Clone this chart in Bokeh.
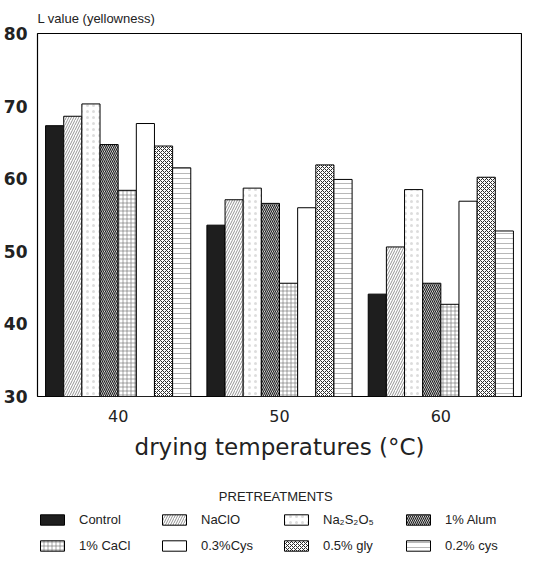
import numpy as np
from bokeh.plotting import figure
from bokeh.models import (ColumnDataSource, FactorRange, Range1d, Legend, LegendItem,
                          FixedTicker, Label)
from bokeh.layouts import column
from bokeh.transform import dodge
from bokeh.embed import file_html
from bokeh.resources import INLINE

temps = ["40", "50", "60"]
treatments = ["Control", "NaClO", "Na\u2082S\u2082O\u2085", "1% Alum",
              "1% CaCl", "0.3%Cys", "0.5% gly", "0.2% cys"]
control = [67.3, 53.6, 44.1]
naclo = [68.6, 57.1, 50.6]
na2s2o5 = [70.3, 58.7, 58.5]
alum = [64.7, 56.6, 45.6]
cacl = [58.4, 45.6, 42.7]
cys03 = [67.6, 56.0, 56.9]
gly = [64.5, 61.9, 60.2]
cys02 = [61.5, 59.9, 52.8]
y_ticks = [30, 40, 50, 60, 70, 80]

series = [control, naclo, na2s2o5, alum, cacl, cys03, gly, cys02]
keys = ["control", "naclo", "na2s2o5", "alum", "cacl", "cys03", "gly", "cys02"]
data = {"temp": temps}
for k, s in zip(keys, series):
    data[k] = s
src = ColumnDataSource(data)

styles = [
    dict(fill_color="#1e1e1e", hatch_pattern=None),
    dict(fill_color="white", hatch_pattern="/", hatch_color="#777777", hatch_scale=5, hatch_weight=0.8),
    dict(fill_color="white", hatch_pattern=".", hatch_color="#dddddd", hatch_scale=6, hatch_weight=0.5),
    dict(fill_color="white", hatch_pattern="\\", hatch_color="#1e1e1e", hatch_scale=4, hatch_weight=1.2),
    dict(fill_color="white", hatch_pattern="+", hatch_color="#666666", hatch_scale=4, hatch_weight=0.6),
    dict(fill_color="white", hatch_pattern=None),
    dict(fill_color="white", hatch_pattern="x", hatch_color="#2a2a2a", hatch_scale=4, hatch_weight=1.0),
    dict(fill_color="white", hatch_pattern="-", hatch_color="#999999", hatch_scale=5, hatch_weight=0.7),
]

p = figure(width=522, height=471, x_range=FactorRange(factors=temps, range_padding=0),
           y_range=Range1d(30, 80), output_backend="svg", toolbar_location=None,
           min_border_left=28, min_border_right=1, min_border_top=0, min_border_bottom=75)

n = len(keys)
group_w = 0.9
bw = group_w / n
for i, (k, st) in enumerate(zip(keys, styles)):
    off = (i - (n - 1) / 2) * bw
    kw = {kk: vv for kk, vv in st.items() if vv is not None}
    p.vbar(x=dodge("temp", off, range=p.x_range), top=k, bottom=30, width=bw,
           source=src, line_color="black", line_width=1, **kw)

p.title.text = "L value (yellowness)"
p.title.align = "left"
p.title.text_font = "Liberation Sans"
p.title.text_font_size = "13px"
p.title.text_font_style = "normal"
p.title.text_color = "#222222"
p.title.standoff = 16

p.xgrid.visible = False
p.ygrid.visible = False
p.outline_line_color = "black"
p.outline_line_width = 1.2

p.yaxis.ticker = FixedTicker(ticks=y_ticks)
p.yaxis.major_label_text_font = "DejaVu Sans"
p.yaxis.major_label_text_font_size = "17px"
p.yaxis.major_label_text_font_style = "bold"
p.yaxis.major_label_text_color = "#222222"
p.yaxis.major_tick_line_color = None
p.yaxis.minor_tick_line_color = None
p.yaxis.axis_line_color = None
p.yaxis.major_label_standoff = 4

p.xaxis.major_label_text_font = "DejaVu Sans"
p.xaxis.major_label_text_font_size = "16px"
p.xaxis.major_label_text_color = "#222222"
p.xaxis.major_tick_line_color = None
p.xaxis.axis_line_color = None
p.xaxis.major_label_standoff = 7
p.xaxis.axis_label = "drying temperatures (\u00b0C)"
p.xaxis.axis_label_text_font = "DejaVu Sans"
p.xaxis.axis_label_text_font_size = "23px"
p.xaxis.axis_label_text_font_style = "normal"
p.xaxis.axis_label_text_color = "#222222"
p.xaxis.axis_label_standoff = 9

# legend panel
lw, lh = 522, 82
q = figure(width=lw, height=lh, x_range=Range1d(0, lw), y_range=Range1d(0, lh),
           output_backend="svg", toolbar_location=None,
           x_axis_location=None, y_axis_location=None,
           min_border_left=0, min_border_right=0, min_border_top=0, min_border_bottom=0)
q.xgrid.visible = False
q.ygrid.visible = False
q.outline_line_color = None

# placeholder source (NaN: nothing drawn) so legend swatches render
empty = ColumnDataSource(dict(x=np.array([np.nan]), top=np.array([np.nan])))
items = []
for i, st in enumerate(styles):
    kw = {kk: vv for kk, vv in st.items() if vv is not None}
    r = q.vbar(x="x", top="top", width=1, source=empty, line_color="black", line_width=1, **kw)
    items.append(LegendItem(label=treatments[i], renderers=[r]))

q.add_layout(Label(x=257, y=lh - 25, text="PRETREATMENTS", text_align="center",
                   text_baseline="middle", text_font="Liberation Sans",
                   text_font_size="13px", text_color="#222222"))

legend = Legend(items=items, orientation="horizontal", ncols=4, location=(0, 0),
                glyph_width=30, glyph_height=13, label_standoff=12, label_width=70,
                label_height=16, spacing=10, padding=0, margin=0,
                border_line_color=None, background_fill_alpha=0,
                label_text_font="Liberation Sans", label_text_font_size="13px",
                label_text_color="#222222")
q.add_layout(legend, "center")

layout = column(p, q, spacing=0)
open("out.html", "w").write(file_html(layout, INLINE))
